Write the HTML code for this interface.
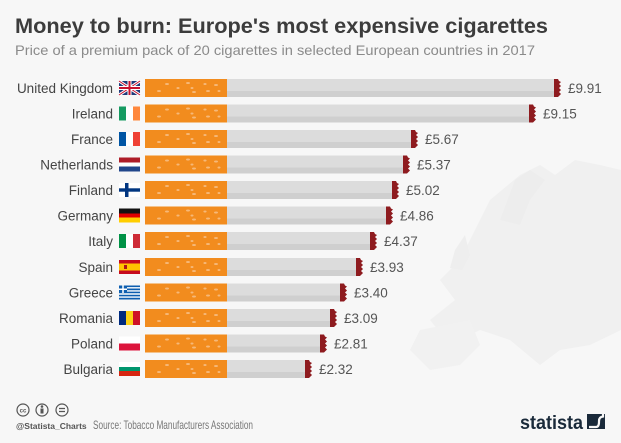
<!DOCTYPE html>
<html><head><meta charset="utf-8"><style>
html,body{margin:0;padding:0;background:#f7f7f7;}
svg{display:block;font-family:"Liberation Sans",sans-serif;}
</style></head><body>
<svg width="621" height="443" viewBox="0 0 621 443" xmlns="http://www.w3.org/2000/svg">
<defs>
<g id="specks" fill="#f6b878">
<ellipse cx="14" cy="12" rx="2" ry="1"/><ellipse cx="22" cy="5" rx="2" ry="1"/><ellipse cx="33" cy="9" rx="1.6" ry="1"/>
<ellipse cx="43" cy="4" rx="2" ry="1"/><ellipse cx="47" cy="9" rx="1.5" ry="1"/><ellipse cx="49" cy="13" rx="2" ry="1"/>
<ellipse cx="60" cy="5" rx="1.6" ry="1"/><ellipse cx="63" cy="12" rx="2" ry="1"/><ellipse cx="71" cy="6" rx="2" ry="1"/><ellipse cx="74" cy="12" rx="1.5" ry="1"/>
</g>
<g id="ash" fill="#8e1b1f"><polygon points="0,0 4,0 5,2 7,3 5,5 7,7 5,9 7,11 5,13 7,15 5,17 4,18 0,18"/></g>
</defs>
<rect width="621" height="443" fill="#f7f7f7"/>
<g fill="#f0f0f0">
<path d="M490,200 L520,175 L540,165 L555,175 L575,160 L600,165 L621,170 L621,330 L590,345 L560,350 L540,365 L510,340 L480,330 L450,345 L430,320 L455,300 L440,280 L460,260 L470,240 Z"/>
<path d="M500,220 L515,180 L530,170 L545,180 L530,200 L520,225 Z" fill="#ededed"/>
<path d="M455,250 L465,235 L470,255 L462,270 L450,268 Z" fill="#eeeeee"/>
<path d="M420,330 L470,320 L480,345 L460,365 L430,370 L410,350 Z" fill="#f1f1f1"/>
</g>
<text x="15" y="33" font-size="21" font-weight="bold" fill="#3c3c3c" textLength="533" lengthAdjust="spacingAndGlyphs">Money to burn: Europe's most expensive cigarettes</text>
<text x="15" y="55" font-size="14" fill="#8a8a8a" textLength="520" lengthAdjust="spacingAndGlyphs">Price of a premium pack of 20 cigarettes in selected European countries in 2017</text>

<g font-size="13.5" fill="#444">
<g transform="translate(0,79)">
<text x="113" y="14" text-anchor="end">United Kingdom</text>
<rect x="145" y="0" width="82" height="18" fill="#f28c1e"/><use href="#specks" x="145"/>
<rect x="227" y="0" width="327" height="18" fill="#dcdcdc"/><rect x="227" y="12" width="327" height="6" fill="#cfcfcf"/>
<use href="#ash" x="554"/><text x="568" y="14" fill="#555">£9.91</text>
<g transform="translate(119,2)"><rect width="21" height="14" fill="#1f3a7a"/><path d="M0,0 L21,14 M21,0 L0,14" stroke="#fff" stroke-width="3"/><path d="M0,0 L21,14 M21,0 L0,14" stroke="#c8102e" stroke-width="1"/><path d="M10.5,0 V14 M0,7 H21" stroke="#fff" stroke-width="4"/><path d="M10.5,0 V14 M0,7 H21" stroke="#c8102e" stroke-width="2"/></g>
</g>
<g transform="translate(0,104.5)">
<text x="113" y="14" text-anchor="end">Ireland</text>
<rect x="145" y="0" width="82" height="18" fill="#f28c1e"/><use href="#specks" x="145"/>
<rect x="227" y="0" width="302" height="18" fill="#dcdcdc"/><rect x="227" y="12" width="302" height="6" fill="#cfcfcf"/>
<use href="#ash" x="529"/><text x="543" y="14" fill="#555">£9.15</text>
<g transform="translate(119,2)"><rect width="7" height="14" fill="#169b62"/><rect x="7" width="7" height="14" fill="#fff"/><rect x="14" width="7" height="14" fill="#ff883e"/></g>
</g>
<g transform="translate(0,130)">
<text x="113" y="14" text-anchor="end">France</text>
<rect x="145" y="0" width="82" height="18" fill="#f28c1e"/><use href="#specks" x="145"/>
<rect x="227" y="0" width="184" height="18" fill="#dcdcdc"/><rect x="227" y="12" width="184" height="6" fill="#cfcfcf"/>
<use href="#ash" x="411"/><text x="425" y="14" fill="#555">£5.67</text>
<g transform="translate(119,2)"><rect width="7" height="14" fill="#0055a4"/><rect x="7" width="7" height="14" fill="#fff"/><rect x="14" width="7" height="14" fill="#ef4135"/></g>
</g>
<g transform="translate(0,155.5)">
<text x="113" y="14" text-anchor="end">Netherlands</text>
<rect x="145" y="0" width="82" height="18" fill="#f28c1e"/><use href="#specks" x="145"/>
<rect x="227" y="0" width="176" height="18" fill="#dcdcdc"/><rect x="227" y="12" width="176" height="6" fill="#cfcfcf"/>
<use href="#ash" x="403"/><text x="417" y="14" fill="#555">£5.37</text>
<g transform="translate(119,2)"><rect width="21" height="5" fill="#ae1c28"/><rect y="5" width="21" height="4" fill="#fff"/><rect y="9" width="21" height="5" fill="#21468b"/></g>
</g>
<g transform="translate(0,181)">
<text x="113" y="14" text-anchor="end">Finland</text>
<rect x="145" y="0" width="82" height="18" fill="#f28c1e"/><use href="#specks" x="145"/>
<rect x="227" y="0" width="165" height="18" fill="#dcdcdc"/><rect x="227" y="12" width="165" height="6" fill="#cfcfcf"/>
<use href="#ash" x="392"/><text x="406" y="14" fill="#555">£5.02</text>
<g transform="translate(119,2)"><rect width="21" height="14" fill="#fff"/><rect x="6" width="3.5" height="14" fill="#003580"/><rect y="5.3" width="21" height="3.4" fill="#003580"/></g>
</g>
<g transform="translate(0,206.5)">
<text x="113" y="14" text-anchor="end">Germany</text>
<rect x="145" y="0" width="82" height="18" fill="#f28c1e"/><use href="#specks" x="145"/>
<rect x="227" y="0" width="159" height="18" fill="#dcdcdc"/><rect x="227" y="12" width="159" height="6" fill="#cfcfcf"/>
<use href="#ash" x="386"/><text x="400" y="14" fill="#555">£4.86</text>
<g transform="translate(119,2)"><rect width="21" height="5" fill="#111"/><rect y="5" width="21" height="4" fill="#dd0000"/><rect y="9" width="21" height="5" fill="#ffce00"/></g>
</g>
<g transform="translate(0,232)">
<text x="113" y="14" text-anchor="end">Italy</text>
<rect x="145" y="0" width="82" height="18" fill="#f28c1e"/><use href="#specks" x="145"/>
<rect x="227" y="0" width="143" height="18" fill="#dcdcdc"/><rect x="227" y="12" width="143" height="6" fill="#cfcfcf"/>
<use href="#ash" x="370"/><text x="384" y="14" fill="#555">£4.37</text>
<g transform="translate(119,2)"><rect width="7" height="14" fill="#009246"/><rect x="7" width="7" height="14" fill="#fff"/><rect x="14" width="7" height="14" fill="#ce2b37"/></g>
</g>
<g transform="translate(0,258)">
<text x="113" y="14" text-anchor="end">Spain</text>
<rect x="145" y="0" width="82" height="18" fill="#f28c1e"/><use href="#specks" x="145"/>
<rect x="227" y="0" width="129" height="18" fill="#dcdcdc"/><rect x="227" y="12" width="129" height="6" fill="#cfcfcf"/>
<use href="#ash" x="356"/><text x="370" y="14" fill="#555">£3.93</text>
<g transform="translate(119,2)"><rect width="21" height="14" fill="#c60b1e"/><rect y="3.5" width="21" height="7" fill="#ffc400"/><rect x="5" y="5" width="3" height="4" fill="#ad1519"/></g>
</g>
<g transform="translate(0,283.5)">
<text x="113" y="14" text-anchor="end">Greece</text>
<rect x="145" y="0" width="82" height="18" fill="#f28c1e"/><use href="#specks" x="145"/>
<rect x="227" y="0" width="113" height="18" fill="#dcdcdc"/><rect x="227" y="12" width="113" height="6" fill="#cfcfcf"/>
<use href="#ash" x="340"/><text x="354" y="14" fill="#555">£3.40</text>
<g transform="translate(119,2)"><rect width="21" height="14" fill="#0d5eaf"/><path d="M0,2.3H21M0,5.4H21M0,8.5H21M0,11.6H21" stroke="#fff" stroke-width="1.4"/><rect width="8" height="7.5" fill="#0d5eaf"/><path d="M4,0V7.5M0,3.7H8" stroke="#fff" stroke-width="1.5"/></g>
</g>
<g transform="translate(0,309)">
<text x="113" y="14" text-anchor="end">Romania</text>
<rect x="145" y="0" width="82" height="18" fill="#f28c1e"/><use href="#specks" x="145"/>
<rect x="227" y="0" width="103" height="18" fill="#dcdcdc"/><rect x="227" y="12" width="103" height="6" fill="#cfcfcf"/>
<use href="#ash" x="330"/><text x="344" y="14" fill="#555">£3.09</text>
<g transform="translate(119,2)"><rect width="7" height="14" fill="#002b7f"/><rect x="7" width="7" height="14" fill="#fcd116"/><rect x="14" width="7" height="14" fill="#ce1126"/></g>
</g>
<g transform="translate(0,334.5)">
<text x="113" y="14" text-anchor="end">Poland</text>
<rect x="145" y="0" width="82" height="18" fill="#f28c1e"/><use href="#specks" x="145"/>
<rect x="227" y="0" width="93" height="18" fill="#dcdcdc"/><rect x="227" y="12" width="93" height="6" fill="#cfcfcf"/>
<use href="#ash" x="320"/><text x="334" y="14" fill="#555">£2.81</text>
<g transform="translate(119,2)"><rect width="21" height="7" fill="#fff"/><rect y="7" width="21" height="7" fill="#dc143c"/></g>
</g>
<g transform="translate(0,360)">
<text x="113" y="14" text-anchor="end">Bulgaria</text>
<rect x="145" y="0" width="82" height="18" fill="#f28c1e"/><use href="#specks" x="145"/>
<rect x="227" y="0" width="78" height="18" fill="#dcdcdc"/><rect x="227" y="12" width="78" height="6" fill="#cfcfcf"/>
<use href="#ash" x="305"/><text x="319" y="14" fill="#555">£2.32</text>
<g transform="translate(119,2)"><rect width="21" height="5" fill="#fff"/><rect y="5" width="21" height="4" fill="#00966e"/><rect y="9" width="21" height="5" fill="#d62612"/></g>
</g>
</g>

<g fill="none" stroke="#555" stroke-width="1.2">
<circle cx="23" cy="410" r="6"/><circle cx="42" cy="410" r="6"/><circle cx="62" cy="410" r="6"/>
</g>
<text x="23" y="412.5" font-size="6" text-anchor="middle" fill="#555" font-weight="bold">cc</text>
<circle cx="42" cy="406.5" r="1.3" fill="#555"/><rect x="40.5" y="408.5" width="3" height="5" fill="#555"/>
<path d="M59,408.5H65M59,411.5H65" stroke="#555" stroke-width="1.2"/>
<text x="16" y="429" font-size="8.5" font-weight="bold" fill="#555">@Statista_Charts</text>
<text x="93" y="429" font-size="12" fill="#777" textLength="160" lengthAdjust="spacingAndGlyphs">Source: Tobacco Manufacturers Association</text>
<text x="520" y="429" font-size="19" font-weight="bold" fill="#1a2a3a" textLength="63" lengthAdjust="spacingAndGlyphs">statista</text>
<rect x="587" y="414" width="18" height="15" fill="#1a2a3a"/>
<path d="M589,427 L596,427 Q599,427 599,422 L599,421 Q599,417 603,416.5 L603,414" fill="none" stroke="#f7f7f7" stroke-width="2.2"/>
</svg>
</body></html>
